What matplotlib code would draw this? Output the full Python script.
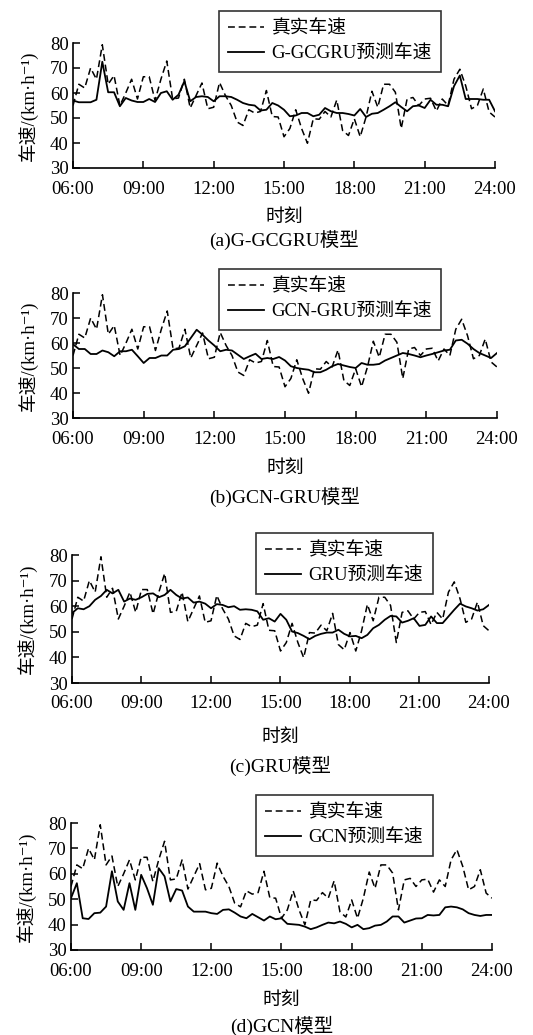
import numpy as np
import matplotlib
matplotlib.use("Agg")
import matplotlib.pyplot as plt

plt.rcParams['font.family'] = ['Liberation Serif', 'Noto Sans CJK SC', 'DejaVu Serif']

# ---------------- data ----------------
tick_hours = [6, 9, 12, 15, 18, 21, 24]
tick_labels = ["06:00", "09:00", "12:00", "15:00", "18:00", "21:00", "24:00"]
y_ticks = [30, 40, 50, 60, 70, 80]

# 15-minute samples from 06:00 to 24:00 (73 points)
true_speed = [55, 63.5, 62, 70, 65.5, 79.3, 63.5, 67, 55, 60, 65.5, 57.6,
              66.5, 66.5, 57, 65.5, 72.8, 57.6, 58, 65.5, 54, 59, 64, 53.7,
              54.3, 64.2, 59, 55, 48.4, 47, 53.3, 52, 52.6, 61, 50.6, 50.4,
              42.5, 45.8, 53.3, 45.8, 39.9, 49.7, 49.5, 52.6, 50.4, 57.2, 45, 43,
              49.7, 42.5, 50.4, 60.7, 54.3, 63.5, 63.5, 60.3, 45.8, 57.6, 58.2, 55,
              57.6, 57.9, 52.8, 57.6, 55, 65.5, 69.5, 62.9, 53.7, 55, 61.6, 52.4,
              50.4]

pred_ggcgru = [57, 56.3, 56.3, 56.3, 57.3, 72.5, 60.3, 60.3, 54.7, 58, 57, 56.4,
               56.4, 57.6, 56.4, 60, 60.7, 57.3, 59.3, 64.7, 56.7, 58.4, 58.7, 58.4,
               56.7, 58.7, 58.7, 58.4, 57.3, 56, 55.3, 55, 53, 53.3, 56, 55,
               53.3, 50.7, 51, 52, 52, 50.7, 51.3, 54, 52.7, 52, 52, 51.6,
               51, 53.6, 50.4, 51.7, 52, 53.3, 54.7, 56.3, 54.4, 52.7, 54.7, 55,
               54, 57.3, 55.3, 55.3, 54.7, 62.7, 67, 57.6, 57.6, 57.6, 57.3, 57.3,
               52.7]

pred_gcngru = [59.5, 57.6, 57.6, 55.6, 55.6, 57, 56.3, 54.7, 56.7, 56.7, 57.3, 54.7,
               52, 54, 54, 55, 55, 57.3, 57.6, 58.7, 62, 65.3, 63.3, 61,
               59, 56.7, 57.3, 57, 55.3, 53.6, 54.7, 55.7, 53.6, 54, 53.6, 54.4,
               53, 50.7, 50, 49.6, 49.3, 48.3, 48.3, 49.3, 50.7, 51.6, 51, 50.4,
               50, 52, 51.3, 51.3, 51.6, 53, 54, 55, 56, 55.6, 55, 54.3,
               55, 55.6, 56.3, 57, 57.3, 61, 61.3, 59.7, 57.6, 56, 55, 54,
               56]

pred_gru = [57.3, 59.2, 58.8, 60, 62.5, 64, 66.4, 65, 66.4, 61.8, 63, 62.5,
            63.5, 64.8, 65, 63.5, 64.4, 66.4, 64.4, 63, 63.4, 61.4, 61.8, 61,
            59.2, 60.8, 60.5, 59.6, 60, 58.6, 58.8, 58.6, 58, 54.7, 55.3, 54,
            57, 54.7, 50.1, 49.5, 48.4, 47.1, 48.4, 49.2, 49.7, 49.7, 50.8, 49.2,
            48.2, 48.4, 47.5, 48.8, 51.4, 52.7, 54.7, 56.2, 56, 53.6, 54.3, 55.3,
            52.3, 52.7, 56, 53.4, 53.4, 56, 58.6, 61, 59.9, 59.2, 58.3, 58.8,
            60.5]

pred_gcn = [50.4, 56.3, 42.5, 42.2, 44.5, 44.7, 47.1, 61, 49.1, 45.8, 56.3, 45.8,
            59.6, 54.3, 47.8, 62.2, 59, 49.1, 54, 53.4, 47.1, 45.1, 45.1, 45.1,
            44.5, 44.2, 45.8, 46, 44.7, 43.2, 42.5, 44.2, 42.9, 41.6, 43.2, 42.1,
            42.5, 40.3, 40.1, 39.9, 39.2, 38.2, 38.9, 39.9, 40.8, 40.5, 41.2, 40.3,
            38.9, 39.9, 38.2, 38.6, 39.6, 39.9, 41.2, 43.2, 43.2, 40.8, 41.6, 42.4,
            42.5, 43.8, 43.6, 43.8, 46.8, 47.1, 46.8, 46, 44.5, 43.8, 43.4, 43.8,
            43.8]

pred_names = ["G-GCGRU预测车速", "GCN-GRU预测车速", "GRU预测车速", "GCN预测车速"]
captions = ["(a)G-GCGRU模型", "(b)GCN-GRU模型", "(c)GRU模型", "(d)GCN模型"]
preds = [pred_ggcgru, pred_gcngru, pred_gru, pred_gcn]

hours = 6 + 0.25 * np.arange(len(true_speed))

# ---------------- layout (pixels) ----------------
W, H = 533, 1035
fig = plt.figure(figsize=(W / 100, H / 100), dpi=100)

# left, right, top, bottom of each axes
ax_px = [(73, 495, 43, 168), (73, 497, 293, 418), (72, 489, 555, 683), (71, 492, 823, 950)]
# legend box upper-left corner (px)
leg_px = [(219, 11), (219, 269), (256, 533), (256, 795)]
xlabel_y = [217, 468, 737, 1000]
caption_y = [240, 497, 766, 1026]

fs = 13.5
for k in range(4):
    l, r, t, b = ax_px[k]
    ax = fig.add_axes([l / W, 1 - b / H, (r - l) / W, (b - t) / H])
    ax.plot(hours, true_speed, color='black', lw=1.1, linestyle=(0, (4.5, 2.5)), label='真实车速')
    ax.plot(hours, preds[k], color='black', lw=1.3, linestyle='-', label=pred_names[k])
    ax.set_xlim(6, 24)
    ax.set_ylim(30, 80)
    ax.set_xticks(tick_hours)
    ax.set_xticklabels(tick_labels)
    ax.set_yticks(y_ticks)
    ax.tick_params(direction='in', length=5, width=1.1, labelsize=fs)
    ax.tick_params(axis='x', pad=9)
    ax.tick_params(axis='y', pad=3)
    for s in ['top', 'right']:
        ax.spines[s].set_visible(False)
    for s in ['left', 'bottom']:
        ax.spines[s].set_linewidth(1.2)
    ax.set_ylabel('车速/(km·h⁻¹)', fontsize=fs, labelpad=9)
    lx, ly = leg_px[k]
    leg = ax.legend(loc='upper left', bbox_to_anchor=(lx / W, 1 - ly / H),
                    bbox_transform=fig.transFigure, frameon=True, fancybox=False,
                    edgecolor='black', fontsize=fs, borderaxespad=0,
                    handlelength=1.9, handletextpad=0.4, borderpad=0.5,
                    labelspacing=0.4)
    leg.get_frame().set_linewidth(1.2)
    cx = (l + r) / 2 / W
    fig.text(cx, 1 - xlabel_y[k] / H, '时刻', ha='center', va='center', fontsize=fs)
    fig.text(cx, 1 - caption_y[k] / H, captions[k], ha='center', va='center', fontsize=14)

fig.savefig('out.png', dpi=100)
